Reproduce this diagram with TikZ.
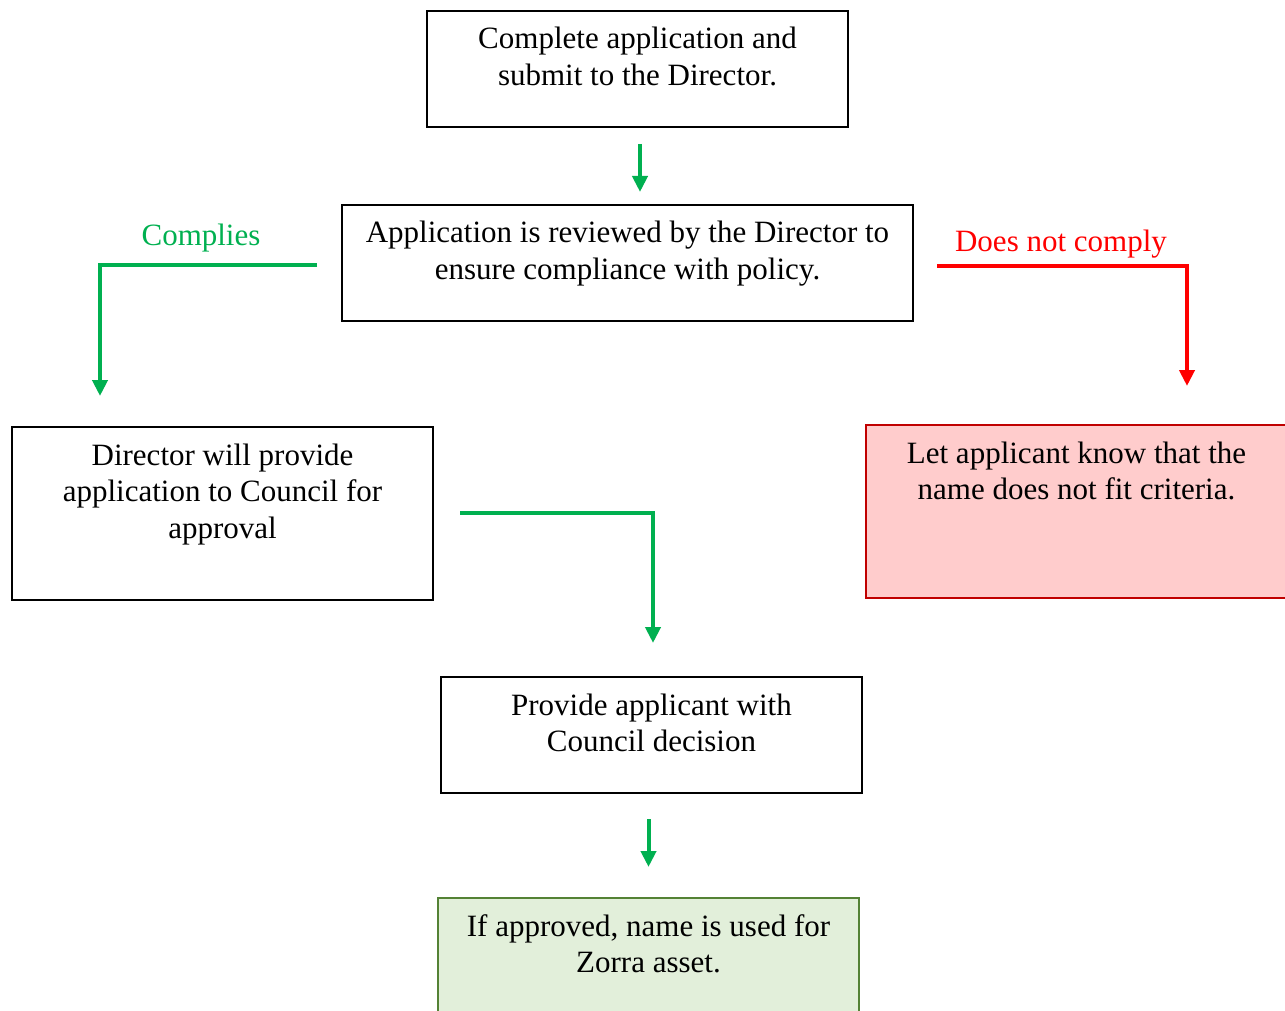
\documentclass[tikz,border=0pt]{standalone}
\usepackage{fontspec}
\setmainfont{Liberation Serif}
\usepackage{xcolor}
\definecolor{flowgreen}{RGB}{0,176,80}
\definecolor{flowred}{RGB}{255,0,0}
\definecolor{rejectfill}{RGB}{255,204,204}
\definecolor{rejectline}{RGB}{192,0,0}
\definecolor{acceptfill}{RGB}{226,239,218}
\definecolor{acceptline}{RGB}{84,130,53}
\usetikzlibrary{arrows.meta, positioning, calc}

\begin{document}
\begin{tikzpicture}[x=1pt, y=-1pt,
    font=\fontsize{31}{36.5}\selectfont,
    stepbox/.style={draw, line width=2pt, text width=401pt, align=flush center,
      inner xsep=10pt, inner ysep=0pt, text height=38pt, text depth=78pt, anchor=north},
    tallbox/.style={stepbox, text depth=135pt},
    garrow/.style={draw=flowgreen, line width=4pt, -{Triangle[width=15pt,length=16pt]}},
    rarrow/.style={draw=flowred, line width=4pt, -{Triangle[width=15pt,length=16pt]}}]

      % Page
      \useasboundingbox (0,0) rectangle (1285,1011);

      % Boxes
      \node[stepbox] (apply) at (637.5,10) {Complete application and\\ submit to the Director.};
      \node[stepbox, text width=551pt] (review) at (627.5,204) {Application is reviewed by the Director to\\ ensure compliance with policy.};
      \node[tallbox] (council) at (222.5,426) {Director will provide\\ application to Council for\\ approval};
      \node[tallbox, draw=rejectline, fill=rejectfill] (reject) at (1076.5,424) {Let applicant know that the\\ name does not fit criteria.};
      \node[stepbox] (decision) at (651.5,676) {Provide applicant with\\ Council decision};
      \node[stepbox, draw=acceptline, fill=acceptfill] (asset) at (648.5,897) {If approved, name is used for\\ Zorra asset.};

      % Branch labels
      \node[text=flowgreen] (complies) at (201,238) {Complies};
      \node[text=flowred] (noncomply) at (1061,244) {Does not comply};

      % Connectors
      \draw[garrow, shorten <=16pt, shorten >=12pt] ([xshift=2.5pt]apply.south) -- ([xshift=2.5pt]apply.south |- review.north);
      \draw[garrow] ([xshift=-24pt, yshift=-2pt]review.west) -| ([xshift=-122.5pt, yshift=30pt]council.north);
      \draw[rarrow] ([xshift=23pt, yshift=-3pt]review.east) -| ([xshift=110.5pt, yshift=38pt]reject.north);
      \draw[garrow] ([xshift=26pt, yshift=1pt]council.east) -| ([xshift=1.5pt, yshift=33pt]decision.north);
      \draw[garrow, shorten <=25pt, shorten >=30pt] (asset.north |- decision.south) -- (asset.north);
\end{tikzpicture}
\end{document}
